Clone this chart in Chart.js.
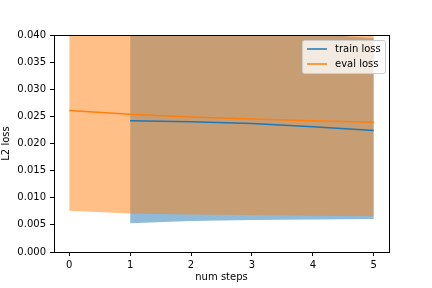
<!DOCTYPE html>
<html>
<head>
<meta charset="utf-8">
<script src="https://cdn.jsdelivr.net/npm/chart.js@4"></script>
<style>
  html, body { margin: 0; padding: 0; background: #fff; }
  #wrap { width: 432px; height: 288px; }
</style>
</head>
<body>
<div id="wrap"><canvas id="myChart" width="432" height="288"></canvas></div>
<script>
// Steps on the x axis
const evalSteps = [0, 1, 2, 3, 4, 5];
const trainSteps = [1, 2, 3, 4, 5];

// Mean loss per step
const trainLoss = [0.0242, 0.0240, 0.0237, 0.0231, 0.0224];
const evalLoss = [0.0261, 0.0254, 0.0249, 0.0245, 0.0242, 0.0239];

// Spread bands (lower / upper)
const trainLower = [0.0053, 0.0057, 0.0059, 0.0060, 0.0061];
const trainUpper = [0.0431, 0.0423, 0.0415, 0.0402, 0.0394];
const evalLower = [0.0076, 0.0071, 0.0069, 0.0068, 0.0067, 0.0066];
const evalUpper = [0.0446, 0.0437, 0.0429, 0.0422, 0.0417, 0.0412];

const yTicks = [0, 0.005, 0.01, 0.015, 0.02, 0.025, 0.03, 0.035, 0.04];
const xTicks = [0, 1, 2, 3, 4, 5];

const blue = "#1f77b4";
const orange = "#ff7f0e";

function pts(xs, ys) {
  return xs.map((x, i) => ({ x: x, y: ys[i] }));
}

// Draws the full box around the plot and a matplotlib-like legend
const framePlugin = {
  id: "frame",
  afterDraw(chart) {
    const { ctx, chartArea: a } = chart;
    ctx.save();
    ctx.strokeStyle = "#000";
    ctx.lineWidth = 1;
    ctx.strokeRect(a.left + 0.5, a.top + 0.5, a.right - a.left, a.bottom - a.top);

    // legend box
    const bx = 302, by = 40, bw = 83, bh = 33;
    ctx.fillStyle = "rgba(255,255,255,0.8)";
    ctx.strokeStyle = "#cccccc";
    ctx.beginPath();
    ctx.roundRect(bx + 0.5, by + 0.5, bw, bh, 2);
    ctx.fill();
    ctx.stroke();
    const items = [["train loss", blue], ["eval loss", orange]];
    ctx.font = "10px 'DejaVu Sans'";
    ctx.textBaseline = "middle";
    items.forEach((it, i) => {
      const y = by + 9 + i * 15;
      ctx.strokeStyle = it[1];
      ctx.lineWidth = 1.5;
      ctx.beginPath();
      ctx.moveTo(bx + 5, y);
      ctx.lineTo(bx + 25, y);
      ctx.stroke();
      ctx.fillStyle = "#000";
      ctx.fillText(it[0], bx + 33, y);
    });
    ctx.restore();
  },
};

Chart.defaults.font.family = "'DejaVu Sans'";
Chart.defaults.font.size = 10;
Chart.defaults.color = "#000";

new Chart("myChart", {
  type: "line",
  data: {
    datasets: [
      {
        label: "train upper",
        data: pts(trainSteps, trainUpper),
        borderWidth: 0,
        pointRadius: 0,
        fill: false,
        order: 3,
      },
      {
        label: "train lower",
        data: pts(trainSteps, trainLower),
        borderWidth: 0,
        pointRadius: 0,
        fill: "-1",
        backgroundColor: "rgba(31,119,180,0.5)",
        order: 3,
      },
      {
        label: "eval upper",
        data: pts(evalSteps, evalUpper),
        borderWidth: 0,
        pointRadius: 0,
        fill: false,
        order: 2,
      },
      {
        label: "eval lower",
        data: pts(evalSteps, evalLower),
        borderWidth: 0,
        pointRadius: 0,
        fill: "-1",
        backgroundColor: "rgba(255,127,14,0.5)",
        order: 2,
      },
      {
        label: "train loss",
        data: pts(trainSteps, trainLoss),
        borderColor: blue,
        borderWidth: 1.5,
        pointRadius: 0,
        fill: false,
        order: 1,
      },
      {
        label: "eval loss",
        data: pts(evalSteps, evalLoss),
        borderColor: orange,
        borderWidth: 1.5,
        pointRadius: 0,
        fill: false,
        order: 0,
      },
    ],
  },
  options: {
    responsive: false,
    animation: false,
    layout: { padding: { top: 35, right: 43, left: 0, bottom: 0 } },
    plugins: {
      legend: { display: false },
      tooltip: { enabled: false },
    },
    scales: {
      x: {
        type: "linear",
        min: -0.25,
        max: 5.25,
        afterBuildTicks: (axis) => {
          axis.ticks = xTicks.map((v) => ({ value: v }));
        },
        afterFit: (axis) => {
          axis.height = 36;
        },
        ticks: { padding: 3, maxRotation: 0 },
        grid: { drawOnChartArea: false, tickLength: 4, color: "#000" },
        border: { color: "#000" },
        title: { display: true, text: "num steps", padding: { top: 1, bottom: 5 } },
      },
      y: {
        min: 0,
        max: 0.04,
        afterBuildTicks: (axis) => {
          axis.ticks = yTicks.map((v) => ({ value: v }));
        },
        afterFit: (axis) => {
          axis.width = 54;
        },
        ticks: {
          padding: 4,
          callback: (v) => v.toFixed(3),
        },
        grid: { drawOnChartArea: false, tickLength: 4, color: "#000" },
        border: { color: "#000" },
        title: { display: true, text: "L2 loss", padding: { top: 0, bottom: 2 } },
      },
    },
  },
  plugins: [framePlugin],
});
</script>
</body>
</html>
